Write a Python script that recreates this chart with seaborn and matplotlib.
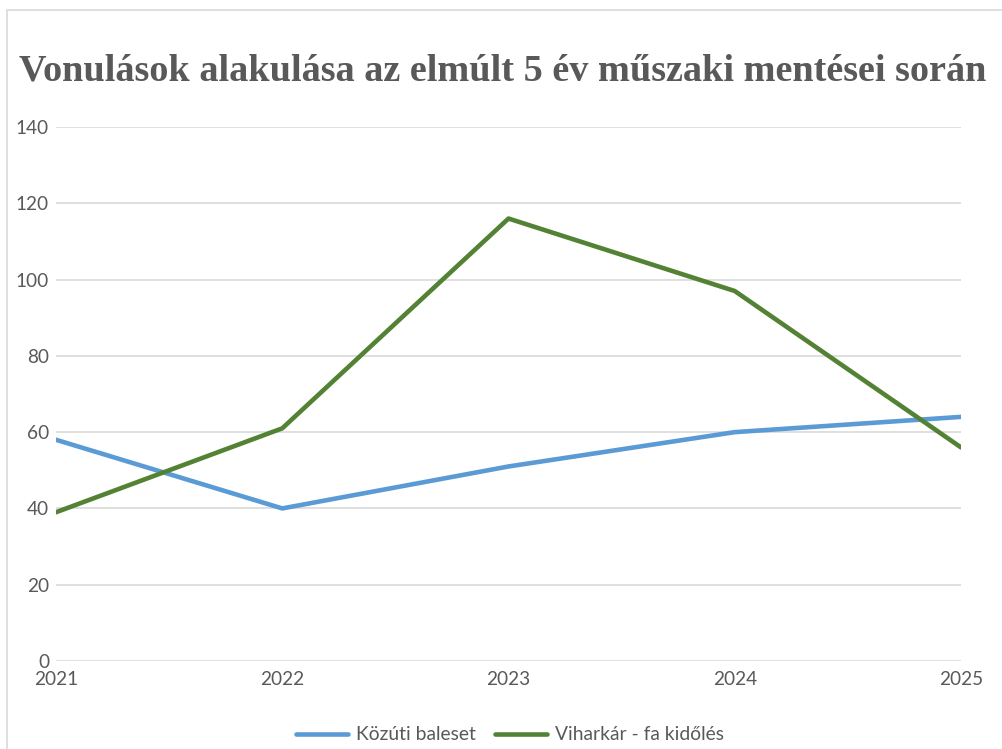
import matplotlib.pyplot as plt
import matplotlib.patches as mpatches
import seaborn as sns
import pandas as pd

# Data
years = [2021, 2022, 2023, 2024, 2025]
kozuti_baleset = [58, 40, 51, 60, 64]
viharkar = [39, 61, 116, 97, 56]
series_names = ["Közúti baleset", "Viharkár - fa kidőlés"]
colors = ["#5B9BD5", "#548235"]

df = pd.DataFrame({
    "year": years * 2,
    "value": kozuti_baleset + viharkar,
    "series": [series_names[0]] * len(years) + [series_names[1]] * len(years),
})

sns.set_theme(style="white")
plt.rcParams['font.family'] = ['Lato', 'DejaVu Sans']

W, H = 1002, 749
fig = plt.figure(figsize=(W / 100, H / 100), dpi=100)
ax = fig.add_axes([56 / W, 1 - 661 / H, (961 - 56) / W, (661 - 127) / H])

# chart area border (Excel-like)
fig.patches.append(mpatches.Rectangle((7 / W, -0.1), 1.2, 1 - 10 / H + 0.1,
                                      transform=fig.transFigure, fill=False,
                                      edgecolor="#d9d9d9", linewidth=1.2))

sns.lineplot(data=df, x="year", y="value", hue="series", palette=colors,
             linewidth=3.3, ax=ax, legend=False)

ax.set_xlim(2021, 2025)
ax.set_ylim(0, 140)
ax.set_yticks(range(0, 141, 20))
ax.set_xticks(years)
ax.set_xticklabels([str(y) for y in years])
ax.yaxis.grid(True, color="#d9d9d9", linewidth=1.2)
ax.set_axisbelow(True)
for s in ax.spines.values():
    s.set_visible(False)
ax.tick_params(axis="both", length=0, labelsize=13.7, labelcolor="#595959")
ax.tick_params(axis="y", pad=5)
ax.tick_params(axis="x", pad=7)
ax.set_xlabel("")
ax.set_ylabel("")

fig.text(503 / W, 1 - 71 / H, "Vonulások alakulása az elmúlt 5 év műszaki mentései során",
         ha="center", va="center", fontsize=27.5, fontweight="bold",
         color="#595959", family=["Liberation Serif", "DejaVu Serif"])

handles = [plt.Line2D([0], [0], color=c, linewidth=3.3) for c in colors]
fig.legend(handles, series_names, loc="center", bbox_to_anchor=(510 / W, 1 - 735 / H),
           ncol=2, frameon=False, fontsize=13.9, labelcolor="#595959",
           handlelength=2.7, columnspacing=1.0, handletextpad=0.4)

fig.savefig("out.png", dpi=100)
